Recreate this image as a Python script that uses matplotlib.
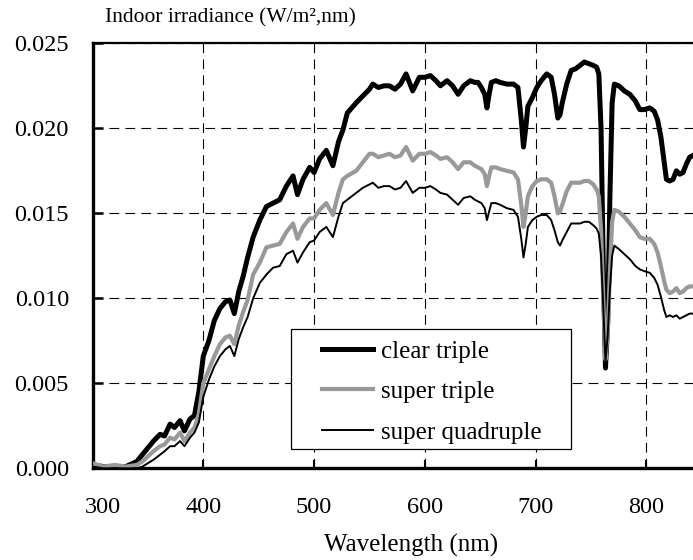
import matplotlib
matplotlib.use('Agg')
import matplotlib.pyplot as plt
from matplotlib.transforms import ScaledTranslation
from matplotlib.patches import Rectangle

plt.rcParams['font.family'] = ['Liberation Serif', 'DejaVu Serif']
plt.rcParams['lines.scale_dashes'] = False

wavelength = [300, 310, 320, 330, 340, 345, 350, 355, 361, 365, 370, 374, 379, 383, 388, 392, 396,
              400, 405, 410, 415, 420, 424, 428, 432, 436, 440, 445, 451, 457, 463, 469, 475, 481,
              485, 490, 496, 500, 505, 511, 517, 522, 526, 530, 538, 544, 550, 553, 558, 563, 568,
              573, 578, 583, 589, 595, 600, 605, 610, 614, 620, 625, 630, 635, 641, 645, 648, 651,
              654, 656, 658, 660, 664, 668, 674, 680, 684, 687, 689, 691, 693, 697, 701, 705, 710,
              714, 717, 720, 722, 724, 728, 732, 736, 740, 744, 748, 752, 755, 757, 759, 761, 763,
              765, 767, 769, 771, 775, 780, 785, 790, 794, 798, 803, 807, 810, 813, 816, 818, 821,
              824, 827, 830, 833, 836, 839, 842]

clear_triple = [0.0002, 0.0001, 0.0000, 0.0001, 0.0004, 0.0008, 0.0012, 0.0016, 0.0020, 0.0019,
                0.0026, 0.0024, 0.0028, 0.0022, 0.0029, 0.0031, 0.0045,
                0.0066, 0.0075, 0.0087, 0.0094, 0.0098, 0.0099, 0.0091, 0.0104, 0.0113, 0.0124,
                0.0136, 0.0146, 0.0154, 0.0156, 0.0158, 0.0166, 0.0172,
                0.0161, 0.0170, 0.0177, 0.0174, 0.0182, 0.0187, 0.0178, 0.0192, 0.0199, 0.0209,
                0.0215, 0.0219, 0.0223, 0.0226, 0.0224, 0.0225, 0.0225,
                0.0223, 0.0226, 0.0232, 0.0222, 0.0230, 0.0230, 0.0231, 0.0228, 0.0225, 0.0228,
                0.0225, 0.0220, 0.0225, 0.0228, 0.0227, 0.0227, 0.0224,
                0.0220, 0.0212, 0.0220, 0.0227, 0.0228, 0.0227, 0.0226, 0.0226, 0.0224, 0.0205,
                0.0189, 0.0200, 0.0213, 0.0218, 0.0224, 0.0228, 0.0232,
                0.0230, 0.0220, 0.0206, 0.0208, 0.0215, 0.0226, 0.0234, 0.0235, 0.0237, 0.0239,
                0.0238, 0.0237, 0.0236, 0.0232, 0.0200, 0.0120, 0.0059,
                0.0085, 0.0160, 0.0215, 0.0226, 0.0225, 0.0222, 0.0220, 0.0216, 0.0211, 0.0211,
                0.0212, 0.0210, 0.0205, 0.0195, 0.0180, 0.0170, 0.0169,
                0.0170, 0.0175, 0.0173, 0.0174, 0.0179, 0.0183, 0.0184]

super_triple = [0.0003, 0.0001, 0.0002, 0.0001, 0.0002, 0.0004, 0.0007, 0.0010, 0.0013, 0.0014,
                0.0018, 0.0017, 0.0021, 0.0016, 0.0021, 0.0024, 0.0032,
                0.0050, 0.0058, 0.0066, 0.0073, 0.0077, 0.0078, 0.0073, 0.0084, 0.0092, 0.0099,
                0.0114, 0.0121, 0.0130, 0.0131, 0.0132, 0.0139, 0.0144,
                0.0135, 0.0142, 0.0147, 0.0147, 0.0152, 0.0156, 0.0149, 0.0162, 0.0170, 0.0172,
                0.0175, 0.0180, 0.0185, 0.0185, 0.0183, 0.0184, 0.0185,
                0.0183, 0.0184, 0.0189, 0.0181, 0.0185, 0.0185, 0.0186, 0.0184, 0.0182, 0.0183,
                0.0180, 0.0176, 0.0180, 0.0180, 0.0178, 0.0177, 0.0176,
                0.0173, 0.0166, 0.0172, 0.0177, 0.0177, 0.0176, 0.0175, 0.0174, 0.0170, 0.0155,
                0.0142, 0.0150, 0.0160, 0.0166, 0.0169, 0.0170, 0.0170,
                0.0168, 0.0160, 0.0150, 0.0151, 0.0155, 0.0163, 0.0168, 0.0168, 0.0168, 0.0169,
                0.0169, 0.0167, 0.0164, 0.0160, 0.0140, 0.0100, 0.0064,
                0.0080, 0.0115, 0.0145, 0.0152, 0.0151, 0.0148, 0.0144, 0.0140, 0.0136, 0.0135,
                0.0135, 0.0132, 0.0127, 0.0119, 0.0110, 0.0105, 0.0103,
                0.0104, 0.0106, 0.0103, 0.0104, 0.0106, 0.0107, 0.0107]

super_quadruple = [0.0001, 0.0000, 0.0000, 0.0000, 0.0000, 0.0001, 0.0003, 0.0005, 0.0008, 0.0010,
                   0.0013, 0.0013, 0.0016, 0.0013, 0.0018, 0.0021, 0.0027,
                   0.0042, 0.0052, 0.0060, 0.0066, 0.0070, 0.0072, 0.0066, 0.0076, 0.0083, 0.0089,
                   0.0100, 0.0109, 0.0114, 0.0118, 0.0119, 0.0126, 0.0128,
                   0.0121, 0.0127, 0.0133, 0.0134, 0.0139, 0.0142, 0.0136, 0.0148, 0.0156, 0.0158,
                   0.0162, 0.0165, 0.0167, 0.0168, 0.0165, 0.0166, 0.0166,
                   0.0164, 0.0165, 0.0169, 0.0162, 0.0165, 0.0165, 0.0166, 0.0164, 0.0162, 0.0161,
                   0.0158, 0.0155, 0.0159, 0.0160, 0.0158, 0.0157, 0.0156,
                   0.0153, 0.0146, 0.0151, 0.0156, 0.0156, 0.0155, 0.0153, 0.0152, 0.0148, 0.0135,
                   0.0124, 0.0132, 0.0142, 0.0146, 0.0148, 0.0149, 0.0149,
                   0.0146, 0.0140, 0.0133, 0.0131, 0.0134, 0.0139, 0.0144, 0.0144, 0.0144, 0.0145,
                   0.0145, 0.0143, 0.0141, 0.0138, 0.0125, 0.0095, 0.0063,
                   0.0078, 0.0105, 0.0125, 0.0131, 0.0129, 0.0126, 0.0123, 0.0119, 0.0117, 0.0116,
                   0.0115, 0.0112, 0.0108, 0.0101, 0.0093, 0.0089, 0.0090,
                   0.0089, 0.0090, 0.0088, 0.0089, 0.0090, 0.0091, 0.0091]

x_ticks = [300, 400, 500, 600, 700, 800]
y_ticks = [0.000, 0.005, 0.010, 0.015, 0.020, 0.025]
y_tick_labels = ['0.000', '0.005', '0.010', '0.015', '0.020', '0.025']
series_labels = ['clear triple', 'super triple', 'super quadruple']

W, H = 693, 560
AX_L, AX_B, AX_W, AX_H = 92.5, 468.3, W - 92.5, 425.0   # pixels (bottom measured from top)
fig = plt.figure(figsize=(W / 100, H / 100), dpi=100)
ax = fig.add_axes([AX_L / W, 1 - AX_B / H, AX_W / W, AX_H / H])


def px_to_axes(px, py):
    return (px - AX_L) / AX_W, (AX_B - py) / AX_H


ax.plot(wavelength, clear_triple, color='black', lw=3.6, solid_joinstyle='round',
        label=series_labels[0], zorder=3)
ax.plot(wavelength, super_triple, color='#999999', lw=3.0, solid_joinstyle='round',
        label=series_labels[1], zorder=4)
ax.plot(wavelength, super_quadruple, color='black', lw=1.4, solid_joinstyle='round',
        label=series_labels[2], zorder=5)

ax.set_xlim(300, 842)
ax.set_ylim(0, 0.025)
ax.set_xticks(x_ticks)
ax.set_xticklabels([str(t) for t in x_ticks])
ax.set_yticks(y_ticks)
ax.set_yticklabels(y_tick_labels)

ax.grid(True, color='black', lw=0.8, linestyle=(0, (7, 4.5)), zorder=1)
ax.set_axisbelow(True)

for side in ['left', 'bottom']:
    ax.spines[side].set_linewidth(2.4)
ax.spines['top'].set_linewidth(1.6)
ax.spines['right'].set_visible(False)

ax.tick_params(axis='y', direction='in', length=7, width=1.8, pad=17, labelsize=17.5)
ax.tick_params(axis='x', direction='in', length=6, width=1.5, pad=21, labelsize=17.5)

first = ax.get_xticklabels()[0]
first.set_transform(first.get_transform() + ScaledTranslation(10 / 100, 0, fig.dpi_scale_trans))

# legend frame (wide padding as in the reference)
x0, y0 = px_to_axes(291, 449)
x1, y1 = px_to_axes(571, 329)
ax.add_patch(Rectangle((x0, y0), x1 - x0, y1 - y0, transform=ax.transAxes,
                       facecolor='white', edgecolor='black', lw=0.9, zorder=9))

ax_x, ax_y = px_to_axes(322, 340)
leg = ax.legend(loc='upper left', bbox_to_anchor=(ax_x, ax_y),
                prop={'family': 'Liberation Serif', 'size': 18},
                frameon=False, handlelength=2.05, handletextpad=0.3,
                borderpad=0, labelspacing=0.72, borderaxespad=0)
leg.set_zorder(10)

fig.text(105 / W, 1 - 18 / H, 'Indoor irradiance (W/m²,nm)', fontsize=15.5,
         ha='left', va='center')
fig.text(411 / W, 1 - 545 / H, 'Wavelength (nm)', fontsize=18, ha='center', va='center')

fig.savefig('out.png', dpi=100)
